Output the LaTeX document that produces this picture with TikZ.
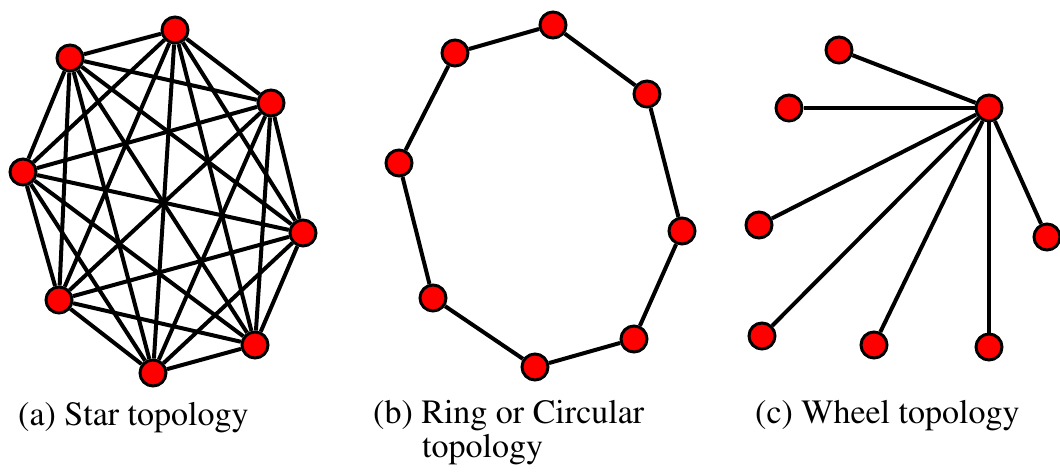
\documentclass[tikz,border=0pt]{standalone}
\usepackage[T1]{fontenc}
\usepackage{mathptmx}
\begin{document}
\begin{tikzpicture}[x=1pt,y=-1pt,
  v/.style={circle,draw=black,fill=red,line width=3pt,minimum size=26pt,inner sep=0pt},
  e/.style={line width=4pt,black},
  lab/.style={anchor=base west,inner sep=0pt,font=\fontsize{34}{40}\selectfont}]
\useasboundingbox (0,0) rectangle (1060,473);
% (a) complete graph
\node[v] (a1) at (70,58) {};
\node[v] (a2) at (175,30) {};
\node[v] (a3) at (271,103) {};
\node[v] (a4) at (23,172) {};
\node[v] (a5) at (303,233) {};
\node[v] (a6) at (59,300) {};
\node[v] (a7) at (255,345) {};
\node[v] (a8) at (153,373) {};
\foreach \i in {1,...,7}{
  \pgfmathtruncatemacro{\s}{\i+1}
  \foreach \j in {\s,...,8}{
    \draw[e] (a\i) -- (a\j);
  }
}
% (b) ring
\node[v] (b1) at (455,53) {};
\node[v] (b2) at (553,25) {};
\node[v] (b3) at (647,94) {};
\node[v] (b4) at (682,231) {};
\node[v] (b5) at (634,339) {};
\node[v] (b6) at (535,367) {};
\node[v] (b7) at (433,298) {};
\node[v] (b8) at (399,163) {};
\draw[e] (b1)--(b2) (b2)--(b3) (b3)--(b4) (b4)--(b5) (b5)--(b6) (b6)--(b7) (b7)--(b8) (b8)--(b1);
% (c) wheel
\node[v] (c0) at (989,108) {};
\node[v] (c1) at (839,50) {};
\node[v] (c2) at (789,108) {};
\node[v] (c3) at (759,225) {};
\node[v] (c4) at (762,336) {};
\node[v] (c5) at (874,345) {};
\node[v] (c6) at (989,347) {};
\node[v] (c7) at (1047,237) {};
\foreach \k in {1,...,7}{\draw[e] (c0) -- (c\k);}
% labels
\node[lab] (la) at (18,425) {(a) Star topology};
\node[lab] (lb1) at (373,423) {(b) Ring or Circular};
\node[lab] (lb2) at (422,457) {topology};
\node[lab] (lc) at (755,423) {(c) Wheel topology};
\end{tikzpicture}
\end{document}
